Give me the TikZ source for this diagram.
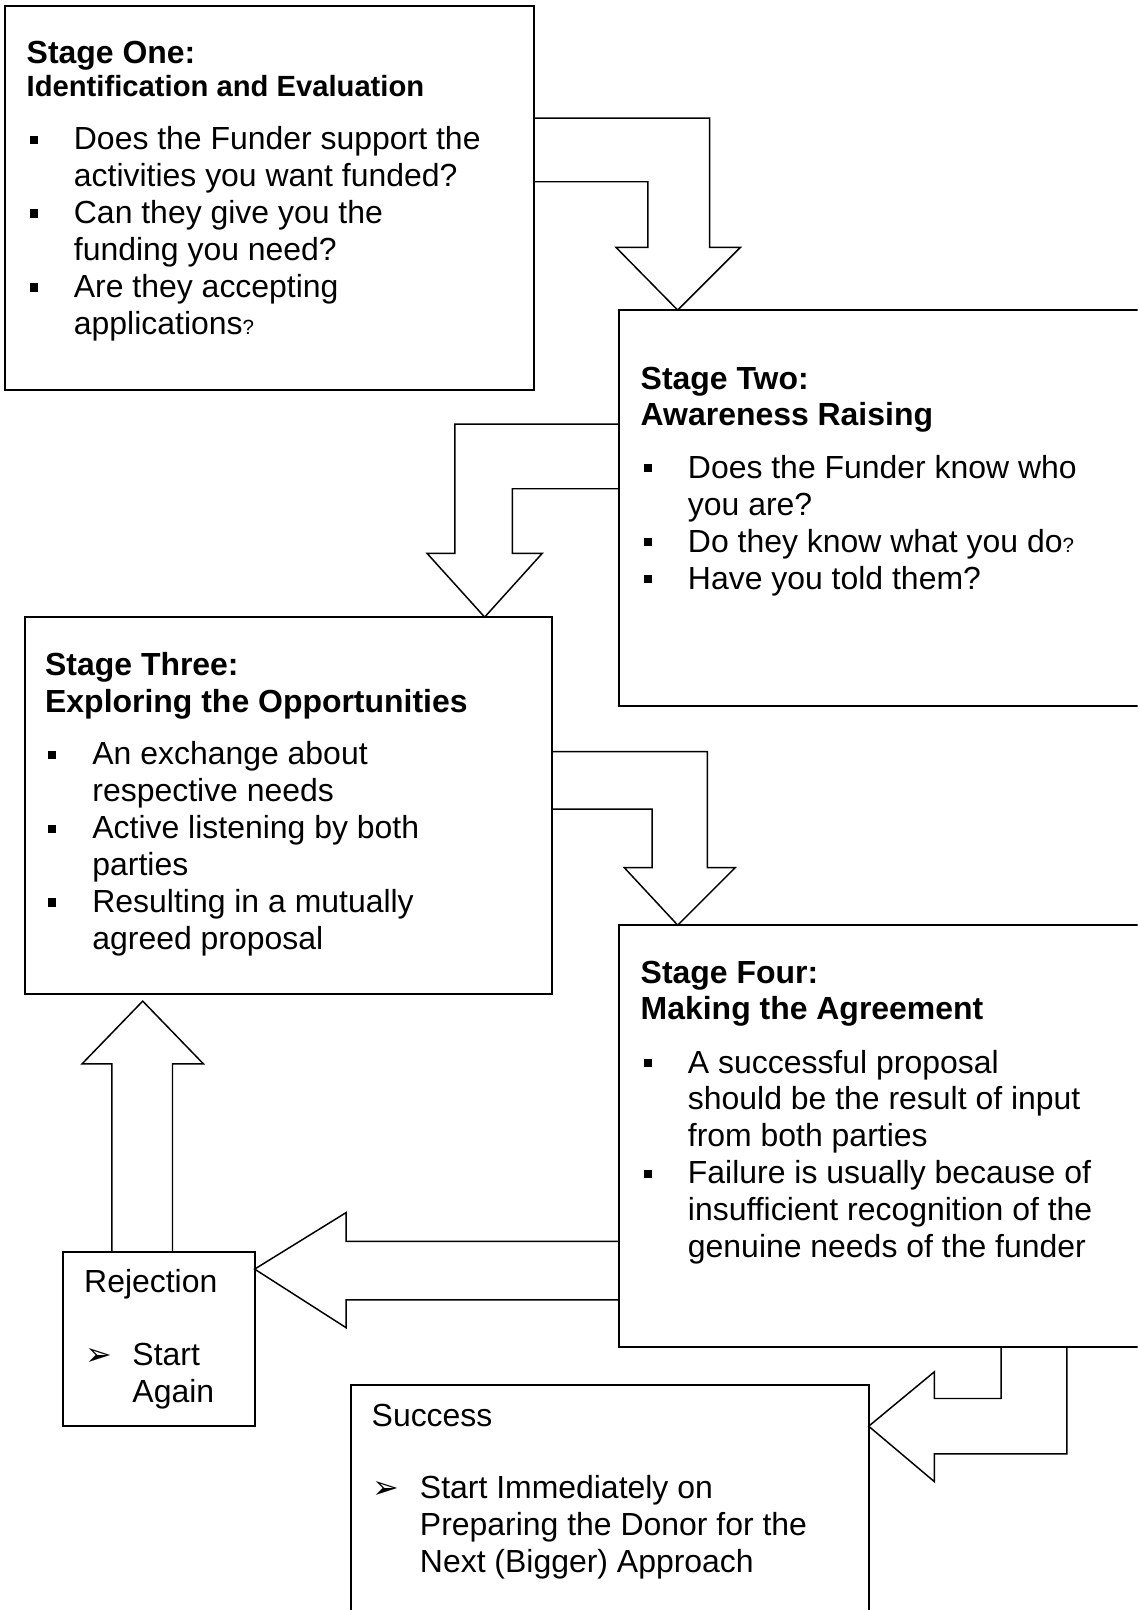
\documentclass[tikz,border=0pt]{standalone}
\usepackage{fontspec}
\setmainfont{Liberation Sans}
\newfontfamily\dejavu{DejaVu Sans}
\newlength\unitpx
\setlength\unitpx{0.45pt}
\newcommand\sqbul{\hangindent=46\unitpx\hangafter=1\makebox[46\unitpx][l]{\hspace{3\unitpx}\raisebox{6\unitpx}{\rule{8\unitpx}{8\unitpx}}}}
\newcommand\arbul{\hangindent=47\unitpx\hangafter=1\makebox[47\unitpx][l]{\hspace{1\unitpx}{\dejavu\fontsize{14}{14}\selectfont ➢}}}
\newcommand\smq{{\fontsize{9}{10}\selectfont ?}}
\newcommand\nl{\newline}
\newcommand\txtblock[1]{\vtop{\hsize=700\unitpx\parindent=0pt\parskip=0pt\fontsize{14}{16.2}\selectfont\baselineskip=36\unitpx\lineskiplimit=-100pt\raggedright #1\par}}
\begin{document}
\begin{tikzpicture}[x=0.45pt,y=-0.45pt,
  box/.style={draw, line width=0.9pt, inner sep=0pt, outer sep=0pt, anchor=north west},
  blk/.style={draw, line width=0.65pt, line join=miter},
  txt/.style={anchor=base west, inner sep=0pt, outer sep=0pt}]
\useasboundingbox (0,0) rectangle (1108,1568);
\clip (0,0) rectangle (1108,1568);
\fill[white] (0,0) rectangle (1108,1568);
% boxes
\node[box, minimum width=515\unitpx, minimum height=374\unitpx] (s1) at (5,6) {};
\node[box, minimum width=520\unitpx, minimum height=386\unitpx] (s2) at (603,302) {};
\node[box, minimum width=514\unitpx, minimum height=367\unitpx] (s3) at (24,601) {};
\node[box, minimum width=520\unitpx, minimum height=411\unitpx] (s4) at (603,901) {};
\node[box, minimum width=187\unitpx, minimum height=170\unitpx] (rej) at (61,1219) {};
\node[box, minimum width=504\unitpx, minimum height=260\unitpx] (succ) at (342,1349) {};
% block arrows
\draw[blk] (s1.east |- 0,115) -- (691,115) -- (691,241) -- (721,241) -- (660,0 |- s2.north)
  -- (600,241) -- (631,241) -- (631,177) -- (s1.east |- 0,177);
\draw[blk] (s2.west |- 0,413) -- (443,413) -- (443,539) -- (416,539) -- (472,0 |- s3.north)
  -- (528,539) -- (499,539) -- (499,476) -- (s2.west |- 0,476);
\draw[blk] (s3.east |- 0,732) -- (689,732) -- (689,845) -- (716,845) -- (660,0 |- s4.north)
  -- (608,845) -- (635,845) -- (635,788) -- (s3.east |- 0,788);
\draw[blk] (s4.west |- 0,1209) -- (337,1209) -- (337,1181) -- (rej.east |- 0,1236)
  -- (337,1293) -- (337,1266) -- (s4.west |- 0,1266);
\draw[blk] (109,0 |- rej.north) -- (109,1036) -- (80,1036) -- (139,975)
  -- (198,1036) -- (168,1036) -- (168,0 |- rej.north);
\draw[blk] (975,0 |- s4.south) -- (975,1362) -- (910,1362) -- (910,1336) -- (succ.east |- 0,1389)
  -- (910,1443) -- (910,1416) -- (1039,1416) -- (1039,0 |- s4.south);
% texts
\node[txt] (t1) at (26,62) {\txtblock{%
\textbf{Stage One:}\par
\vspace{-2\unitpx}{\bfseries\fontsize{12.8}{15.3}\selectfont Identification and Evaluation\par}
\vspace{16\unitpx}%
\sqbul Does the Funder support the\nl activities you want funded?\par
\sqbul Can they give you the\nl funding you need?\par
\sqbul Are they accepting\nl applications\smq\par}};
\node[txt] (t2) at (624,379) {\txtblock{%
\textbf{Stage Two:}\par
\vspace{-1\unitpx}\textbf{Awareness Raising}\par
\vspace{16\unitpx}%
\sqbul Does the Funder know who\nl you are?\par
\sqbul Do they know what you do\smq\par
\sqbul Have you told them?\par}};
\node[txt] (t3) at (44,658) {\txtblock{%
\textbf{Stage Three:}\par
\textbf{Exploring the Opportunities}\par
\vspace{15\unitpx}%
\sqbul An exchange about\nl respective needs\par
\sqbul Active listening by both\nl parties\par
\sqbul Resulting in a mutually\nl agreed proposal\par}};
\node[txt] (t4) at (624,958) {\txtblock{%
\textbf{Stage Four:}\par
\vspace{-1\unitpx}\textbf{Making the Agreement}\par
\vspace{16\unitpx}%
\sqbul A successful proposal\nl should be the result of input\nl from both parties\par
\sqbul Failure is usually because of\nl insufficient recognition of the\nl genuine needs of the funder\par}};
\node[txt] (t5) at (82,1259) {\txtblock{%
Rejection\par
\vspace{35\unitpx}%
\arbul Start\nl Again\par}};
\node[txt] (t6) at (362,1389) {\txtblock{%
Success\par
\vspace{34\unitpx}%
\arbul Start Immediately on\nl Preparing the Donor for the\nl Next (Bigger) Approach\par}};
\end{tikzpicture}
\end{document}
